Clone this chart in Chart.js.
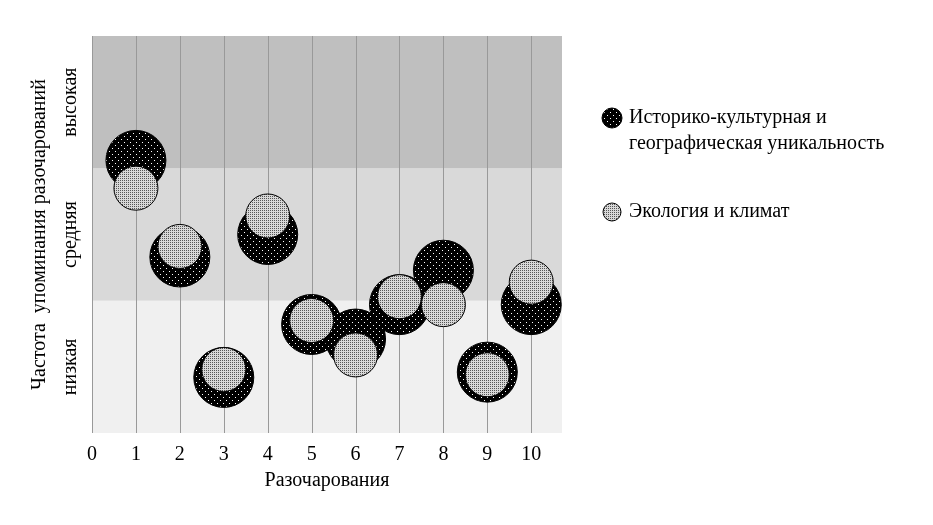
<!DOCTYPE html>
<html><head><meta charset="utf-8">
<script src="https://cdn.jsdelivr.net/npm/chart.js@4/dist/chart.umd.min.js"></script>
<style>body{margin:0;background:#fff}#c{display:block}</style>
</head><body>
<canvas id="c" width="933" height="525"></canvas>
<script>
// данные
const categories = [1, 2, 3, 4, 5, 6, 7, 8, 9, 10];
const seriesNames = ['Историко-культурная и географическая уникальность', 'Экология и климат'];
const uniqueness = [2.06, 1.33, 0.42, 1.50, 0.82, 0.71, 0.97, 1.23, 0.46, 0.97];
const ecology = [1.85, 1.41, 0.48, 1.64, 0.85, 0.59, 1.03, 0.97, 0.44, 1.14];
const bandLabels = ['низкая', 'средняя', 'высокая'];
const xTicks = [0, 1, 2, 3, 4, 5, 6, 7, 8, 9, 10];

function dotPattern() {
  const p = document.createElement('canvas'); p.width = 6; p.height = 6;
  const g = p.getContext('2d');
  g.fillStyle = '#000'; g.fillRect(0, 0, 6, 6);
  g.fillStyle = '#fff'; g.fillRect(1, 1, 1, 1); g.fillRect(4, 4, 1, 1);
  return g.createPattern(p, 'repeat');
}
function checkPattern() {
  const p = document.createElement('canvas'); p.width = 4; p.height = 4;
  const g = p.getContext('2d');
  g.fillStyle = '#d8d8d8'; g.fillRect(0, 0, 4, 4);
  g.fillStyle = '#555'; g.fillRect(0, 0, 1, 1); g.fillRect(2, 2, 1, 1); g.fillRect(2, 0, 1, 1); g.fillRect(0, 2, 1, 1);
  return g.createPattern(p, 'repeat');
}
const pBlack = dotPattern(), pGray = checkPattern();

const toPts = (arr, r) => arr.map((v, i) => ({x: categories[i], y: v, r: r}));

const bands = {
  id: 'bands',
  beforeDatasetsDraw(chart) {
    const {ctx, chartArea: a, scales: {x, y}} = chart;
    const cols = ['#f0f0f0', '#d9d9d9', '#bfbfbf'];
    ctx.save();
    for (let i = 0; i < 3; i++) {
      const top = y.getPixelForValue(i + 1), bot = y.getPixelForValue(i);
      ctx.fillStyle = cols[i]; ctx.fillRect(a.left, top, a.right - a.left, bot - top);
    }
    ctx.strokeStyle = '#999'; ctx.lineWidth = 1;
    xTicks.forEach(t => {
      const px = Math.round(x.getPixelForValue(t)) + 0.5;
      ctx.beginPath(); ctx.moveTo(px, a.top); ctx.lineTo(px, a.bottom); ctx.stroke();
    });
    ctx.restore();
  },
  afterDraw(chart) {
    const {ctx, scales: {y}} = chart;
    ctx.save();
    ctx.font = '20px "Liberation Serif"'; ctx.fillStyle = '#000';
    ctx.textAlign = 'center'; ctx.textBaseline = 'middle';
    bandLabels.forEach((t, i) => {
      ctx.save();
      ctx.translate(71, y.getPixelForValue(i + 0.5));
      ctx.rotate(-Math.PI / 2); ctx.fillText(t, 0, 0);
      ctx.restore();
    });
    // легенда
    ctx.textAlign = 'left'; ctx.textBaseline = 'middle';
    const items = [[pBlack, 10, 118, ['Историко-культурная и', 'географическая уникальность']], [pGray, 9, 212, ['Экология и климат']]];
    items.forEach(([pat, r, cy, lines]) => {
      ctx.beginPath(); ctx.arc(612, cy, r, 0, Math.PI * 2);
      ctx.fillStyle = pat; ctx.fill(); ctx.strokeStyle = '#000'; ctx.lineWidth = 1; ctx.stroke();
      ctx.fillStyle = '#000';
      lines.forEach((l, k) => ctx.fillText(l, 629, cy + k * 26));
    });
    ctx.restore();
  }
};

new Chart(document.getElementById('c'), {
  type: 'bubble',
  data: {
    datasets: [
      {label: seriesNames[0], data: toPts(uniqueness, 30), backgroundColor: pBlack, borderColor: '#000', borderWidth: 1, order: 1},
      {label: seriesNames[1], data: toPts(ecology, 22), backgroundColor: pGray, borderColor: '#000', borderWidth: 1, order: 0}
    ]
  },
  plugins: [bands],
  options: {
    responsive: false, animation: false,
    layout: {padding: {left: 28, right: 371, top: 36, bottom: 32}},
    plugins: {legend: {display: false}, tooltip: {enabled: false}},
    scales: {
      x: {
        type: 'linear', min: 0, max: 10.7,
        afterBuildTicks: s => { s.ticks = xTicks.map(v => ({value: v})); },
        grid: {display: false}, border: {display: false},
        ticks: {color: '#000', font: {family: 'Liberation Serif', size: 20}, padding: 2},
        title: {display: true, text: 'Разочарования', color: '#000', font: {family: 'Liberation Serif', size: 20}, padding: 0}
      },
      y: {
        min: 0, max: 3,
        grid: {display: false}, border: {display: false},
        ticks: {display: false},
        afterFit: s => { s.width = 64; },
        title: {display: true, text: 'Частота  упоминания разочарований', color: '#000', font: {family: 'Liberation Serif', size: 20}, padding: {top: 0, bottom: 30}}
      }
    }
  }
});
</script>
</body></html>
